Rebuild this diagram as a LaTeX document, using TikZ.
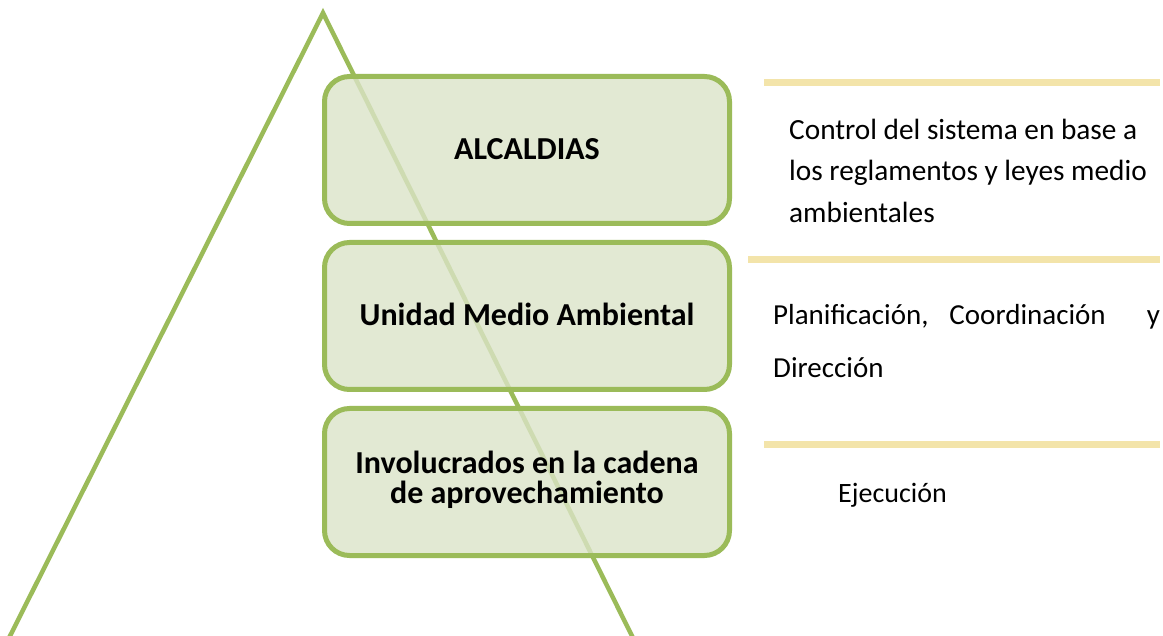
\documentclass[tikz,border=0pt]{standalone}
\usepackage{fontspec}
\setmainfont{Carlito}
\definecolor{grn}{HTML}{9BBB59}
\definecolor{boxfill}{RGB}{219,228,200}
\definecolor{tan}{RGB}{243,228,170}
\begin{document}
\begin{tikzpicture}[x=1pt,y=-1pt,
  tri/.style={draw=grn,line width=4.5pt},
  levelbox/.style={draw=grn,line width=5pt,rounded corners=25pt,fill=boxfill,fill opacity=0.8,text opacity=1,
    minimum width=405pt,minimum height=147pt,inner sep=0pt},
  boxtext/.style={font=\fontsize{32}{29.5}\selectfont\bfseries,anchor=base,align=center,inner sep=0pt},
  sep/.style={draw=tan,line width=7pt},
  desc/.style={anchor=base west,inner sep=0pt,font=\fontsize{28}{32}\selectfont}]
\useasboundingbox (0,0) rectangle (1163,636);
\fill[white] (0,0) rectangle (1163,636);
\begin{scope}
\clip (0,0) rectangle (1163,636);
\coordinate (bl) at (8,640);
\coordinate (apex) at (323,13);
\coordinate (br) at (634,640);
\draw[tri,line join=miter] (bl) -- (apex) -- (br);
\end{scope}
\node[levelbox] (b1) at (527,150) {};
\node[levelbox] (b2) at (527,316) {};
\node[levelbox] (b3) at (527,482) {};
\node[boxtext] (x1) at (527,160) {ALCALDIAS};
\node[boxtext] (x2) at (527,325.5) {Unidad Medio Ambiental};
\node[boxtext] (x3) at (527,503) {Involucrados en la cadena\\de aprovechamiento};
\coordinate (l1a) at (764,83); \coordinate (l1b) at (1160,83);
\coordinate (l2a) at (748,259.5); \coordinate (l2b) at (1160,259.5);
\coordinate (l3a) at (764,445); \coordinate (l3b) at (1160,445);
\draw[sep] (l1a) -- (l1b);
\draw[sep] (l2a) -- (l2b);
\draw[sep] (l3a) -- (l3b);
\node[desc,font=\fontsize{29.3}{32}\selectfont] (t1) at (789,140) {Control del sistema en base a};
\node[desc,font=\fontsize{29.3}{32}\selectfont] (t2) at (789,181) {los reglamentos y leyes medio};
\node[desc,font=\fontsize{29.3}{32}\selectfont] (t3) at (789,222.5) {ambientales};
\node[desc,font=\fontsize{29}{32}\selectfont] (t4) at (773,325) {\hbox to 387pt{Planificación,\hspace{21pt}Coordinación\hfill y}};
\node[desc,font=\fontsize{29}{32}\selectfont] (t5) at (773,378) {Dirección};
\node[desc] (t6) at (838,502) {Ejecución};
\end{tikzpicture}
\end{document}
